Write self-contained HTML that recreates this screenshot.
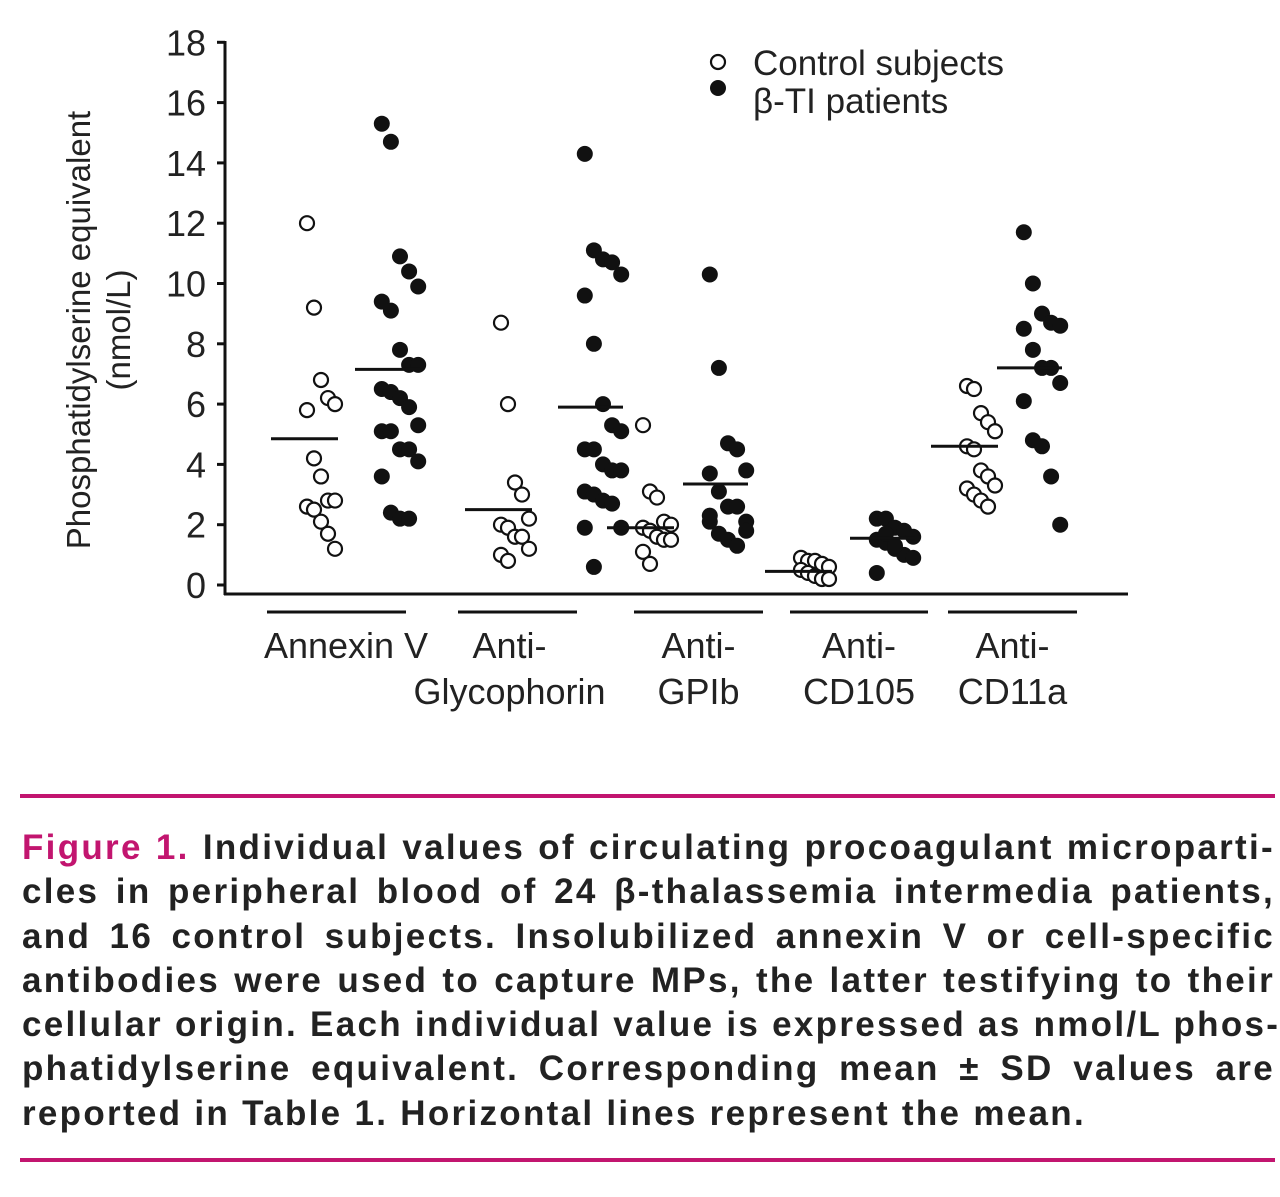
<!DOCTYPE html>
<html><head><meta charset="utf-8"><style>
body{margin:0;background:#fff;width:1280px;height:1197px;overflow:hidden;position:relative;font-family:"Liberation Sans",sans-serif}
svg{position:absolute;left:0;top:0}
.rule{position:absolute;left:20px;width:1255px;height:4px;background:#c2156f}
.cap{position:absolute;left:22px;width:1253px;top:826px;font-weight:bold;font-size:35px;letter-spacing:2.3px;line-height:44.3px;color:#222}
.cap div{text-align:justify;text-align-last:justify;white-space:nowrap;height:44.3px}
.cap div.last{text-align-last:left}
.fig{color:#c2156f}
</style></head><body>
<svg id="chart" width="1280" height="780"></svg>
<div class="rule" style="top:794px"></div>
<div class="cap">
<div><span class="fig">Figure 1.</span> Individual values of circulating procoagulant microparti-</div>
<div>cles in peripheral blood of 24 β-thalassemia intermedia patients,</div>
<div>and 16 control subjects. Insolubilized annexin V or cell-specific</div>
<div>antibodies were used to capture MPs, the latter testifying to their</div>
<div>cellular origin. Each individual value is expressed as nmol/L phos-</div>
<div>phatidylserine equivalent. Corresponding mean ± SD values are</div>
<div class="last">reported in Table 1. Horizontal lines represent the mean.</div>
</div>
<div class="rule" style="top:1158px"></div>
<script>
const categories=["Annexin V","Anti-Glycophorin","Anti-GPIb","Anti-CD105","Anti-CD11a"];
const yTicks=[0,2,4,6,8,10,12,14,16,18];
const controlValues=[
 [12.0,9.2,6.8,6.2,6.0,5.8,4.2,3.6,2.8,2.8,2.6,2.5,2.1,1.7,1.2],
 [8.7,6.0,3.4,3.0,2.2,2.0,1.9,1.6,1.6,1.2,1.0,0.8],
 [5.3,3.1,2.9,2.1,2.0,1.9,1.8,1.6,1.5,1.5,1.1,0.7],
 [0.9,0.8,0.8,0.7,0.6,0.5,0.4,0.3,0.2,0.2],
 [6.6,6.5,5.7,5.4,5.1,4.6,4.5,3.8,3.6,3.3,3.2,3.0,2.8,2.6]];
const patientValues=[
 [15.3,14.7,10.9,10.4,9.9,9.4,9.1,7.8,7.3,7.3,6.5,6.4,6.2,5.9,5.3,5.1,5.1,4.5,4.5,4.1,3.6,2.4,2.2,2.2],
 [14.3,11.1,10.8,10.7,10.3,9.6,8.0,6.0,5.3,5.1,4.5,4.5,4.0,3.8,3.8,3.1,3.0,2.8,2.7,1.9,1.9,0.6],
 [10.3,7.2,4.7,4.5,3.8,3.7,3.1,2.6,2.6,2.1,2.1,1.7,1.5,1.3,1.8,2.3],
 [2.2,2.2,1.9,1.8,1.6,1.5,1.4,1.2,1.0,0.9,0.4,1.7,1.3],
 [11.7,10.0,9.0,8.7,8.6,8.5,7.8,7.2,7.2,6.7,6.1,4.8,4.6,3.6,2.0]];
const controlMeans=[4.85,2.5,1.9,0.45,4.6];
const patientMeans=[7.15,5.9,3.35,1.55,7.2];
const svg=document.getElementById('chart');
const NS='http://www.w3.org/2000/svg';
const y0=585,yU=30.15;
function yS(v){return y0-v*yU;}
const ctrlX=[321,515,657,815,981];
const patX=[400,603,728,895,1042];
function jit(i,n){const offs=[-14,-7,0,7,14];return offs[i%5];}
function mk(tag,at){const e=document.createElementNS(NS,tag);for(const k in at)e.setAttribute(k,at[k]);svg.appendChild(e);return e;}
let e;
e=mk('line',{x1:225,y1:41,x2:225,y2:595,stroke:'#111','stroke-width':3});


e=mk('line',{x1:224,y1:594,x2:1128,y2:594,stroke:'#111','stroke-width':3});


yTicks.forEach(t=>{
 e=mk('line',{x1:217,x2:225,y1:yS(t),y2:yS(t),stroke:'#111','stroke-width':3});
 
 
 e=mk('text',{x:206,y:yS(t)+13,'text-anchor':'end','font-size':36,fill:'#222'});
 e.textContent=t;
 
 
});
e=mk('text',{transform:'translate(90,330) rotate(-90)','text-anchor':'middle','font-size':33,fill:'#222'});
e.textContent='Phosphatidylserine equivalent';


e=mk('text',{transform:'translate(130,330) rotate(-90)','text-anchor':'middle','font-size':33,fill:'#222'});
e.textContent='(nmol/L)';


const bars=[[267,406],[458,577],[634,763],[790,928],[948,1077]];
const lab=[["Annexin V"],["Anti-","Glycophorin"],["Anti-","GPIb"],["Anti-","CD105"],["Anti-","CD11a"]];
categories.forEach((c,i)=>{
 e=mk('line',{x1:bars[i][0],x2:bars[i][1],y1:612,y2:612,stroke:'#111','stroke-width':3});
 
 
 const cx=i==0?346:(bars[i][0]+bars[i][1])/2+(i==1?-8:0);
 lab[i].forEach((l,j)=>{
  e=mk('text',{x:cx,y:658+j*46,'text-anchor':'middle','font-size':36,fill:'#222'});
  e.textContent=l;
  
  
 });
 controlValues[i].forEach((v,k)=>{
  e=mk('circle',{cx:ctrlX[i]+jit(k),cy:yS(v),r:7,fill:'#fff',stroke:'#111','stroke-width':2.2});
  
  
 });
 patientValues[i].forEach((v,k)=>{
  e=mk('circle',{cx:patX[i]+jit(k)*1.3,cy:yS(v),r:8,fill:'#111'});
  
  
 });
 e=mk('line',{x1:ctrlX[i]-50,x2:ctrlX[i]+17,y1:yS(controlMeans[i]),y2:yS(controlMeans[i]),stroke:'#111','stroke-width':3});
 
 
 e=mk('line',{x1:patX[i]-45,x2:patX[i]+20,y1:yS(patientMeans[i]),y2:yS(patientMeans[i]),stroke:'#111','stroke-width':3});
 
 
});
e=mk('circle',{cx:718,cy:62,r:7,fill:'#fff',stroke:'#111','stroke-width':2.2});


e=mk('circle',{cx:718,cy:88,r:8,fill:'#111'});


e=mk('text',{x:753,y:75,'font-size':35,fill:'#222'});
e.textContent='Control subjects';


e=mk('text',{x:753,y:113,'font-size':35,fill:'#222'});
e.textContent='β-TI patients';


</script>
</body></html>
